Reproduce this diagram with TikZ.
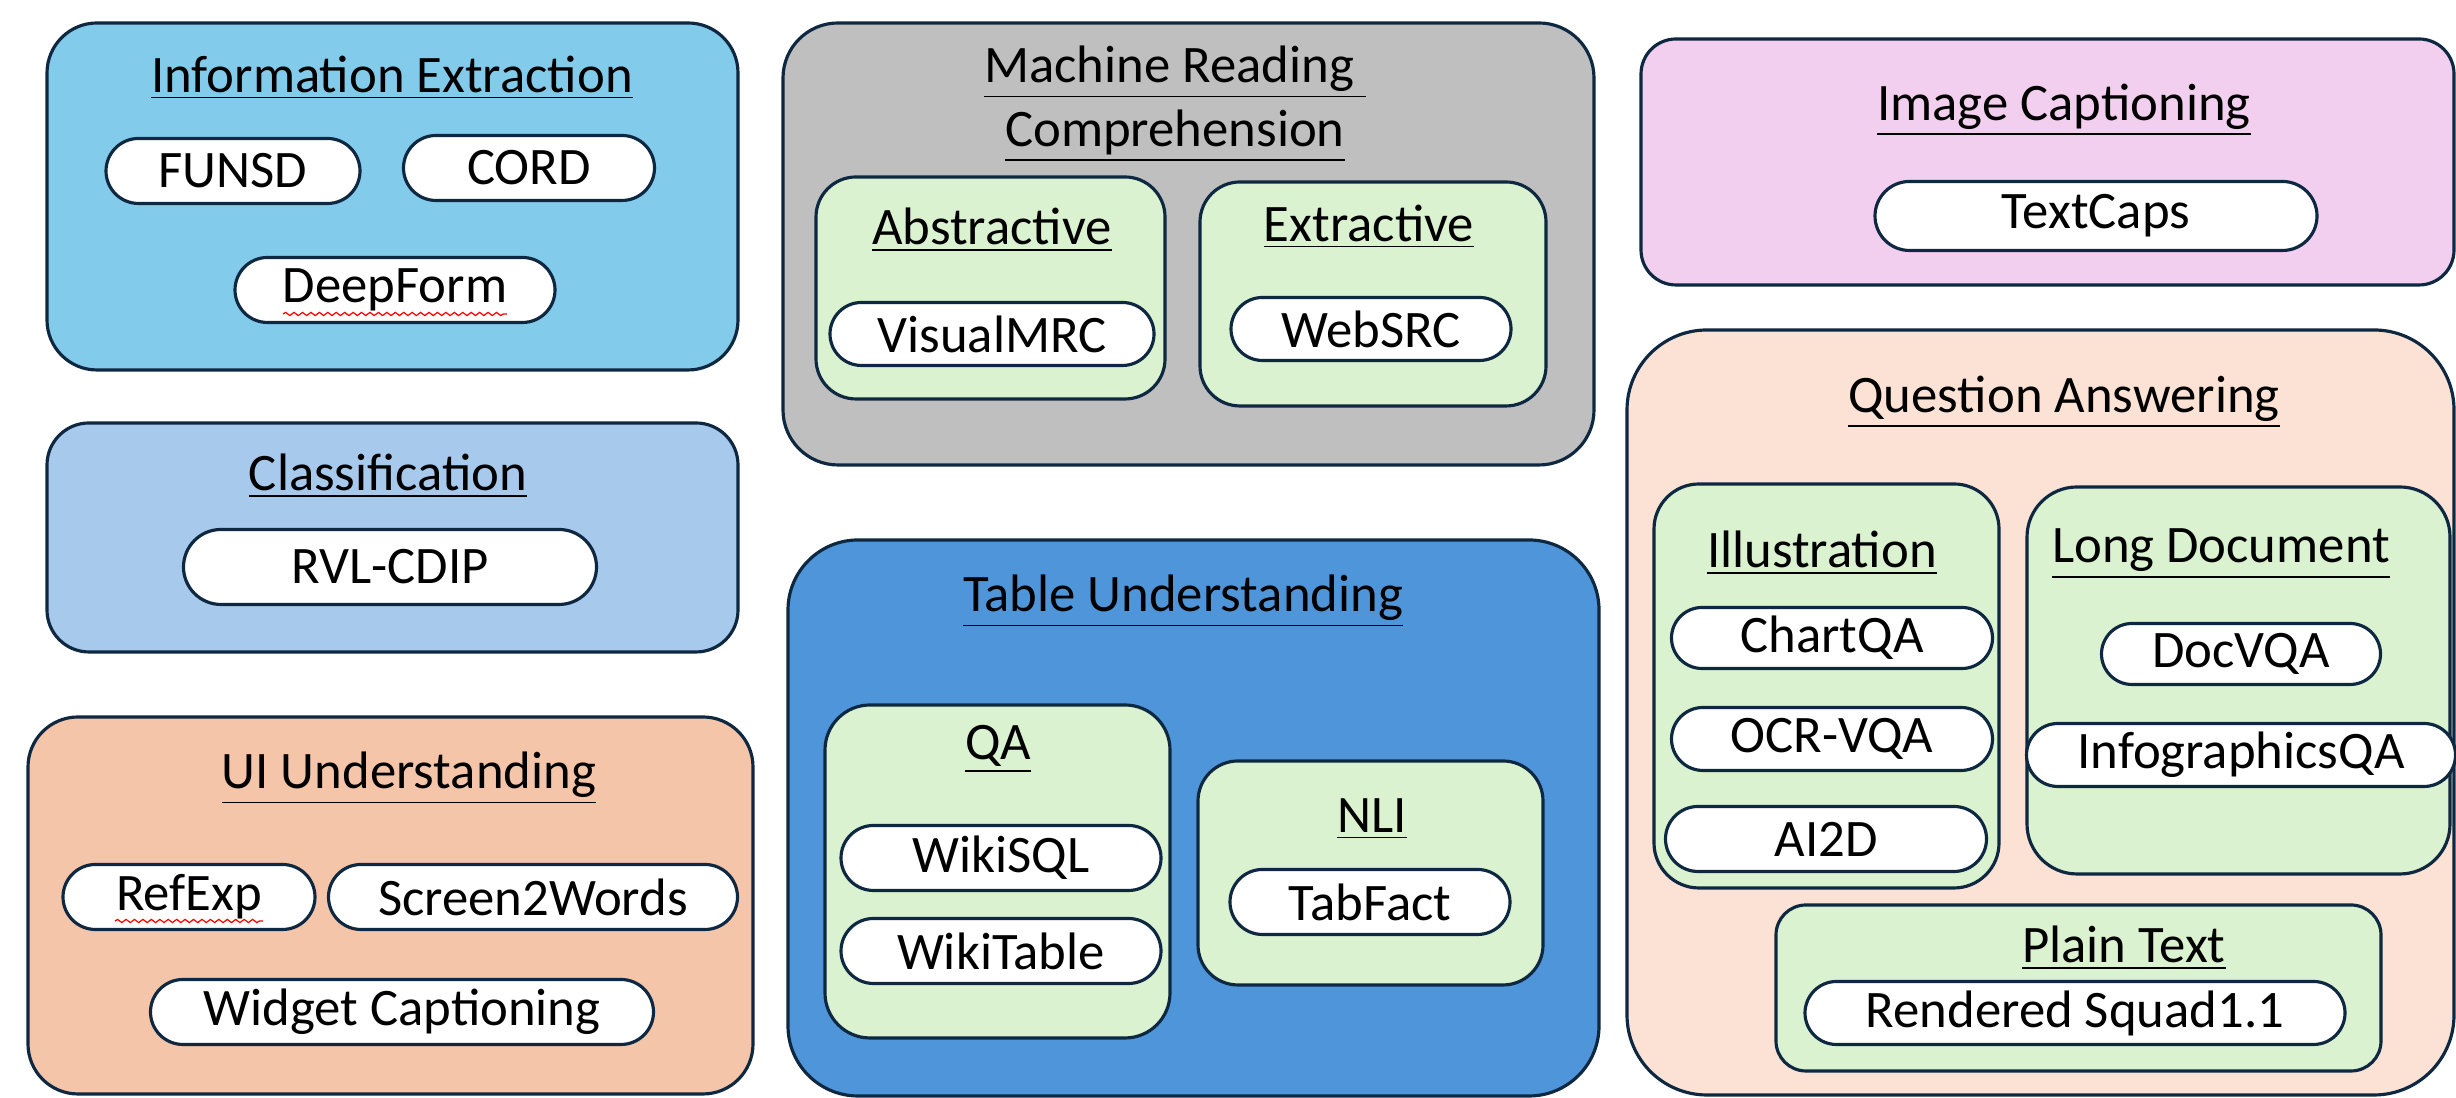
\documentclass[tikz,border=0pt]{standalone}
\usepackage{fontspec}
\setmainfont{Carlito}
\usetikzlibrary{shapes.misc,decorations.pathmorphing}

\definecolor{edge}{RGB}{14,40,65}
\definecolor{ieblue}{RGB}{131,203,235}
\definecolor{clsblue}{RGB}{166,201,236}
\definecolor{uiorange}{RGB}{245,197,170}
\definecolor{mrcgray}{RGB}{191,191,191}
\definecolor{tblblue}{RGB}{78,149,217}
\definecolor{cappink}{RGB}{242,206,239}
\definecolor{qapeach}{RGB}{251,226,213}
\definecolor{subgreen}{RGB}{218,242,208}

\tikzset{
  group/.style={draw=edge,line width=0.9pt,rounded corners=#1},
  group/.default=0.5cm,
  title/.style={font=\fontsize{15}{18.2}\selectfont,align=center},
  pill/.style={draw=edge,line width=0.9pt,fill=white,rounded rectangle,
    minimum height=0.65cm,inner sep=0pt,font=\fontsize{15}{18}\selectfont},
  spell/.style={draw=red,line width=0.35pt,decorate,
    decoration={snake,amplitude=0.45pt,segment length=2.4pt}}
}

\begin{document}
\begin{tikzpicture}
                \useasboundingbox (0,0) rectangle (24.56,10.98);
                \clip (0,0) rectangle (24.56,10.98);
                % left column
                \draw[group=0.5cm,fill=ieblue] (0.47,7.28) rectangle (7.38,10.75);
                \node[title] (ie) at (3.92,10.20) {\underline{Information Extraction}};
                \node[pill,minimum width=2.54cm] (funsd) at (2.33,9.27) {FUNSD};
                \node[pill,minimum width=2.51cm] (cord) at (5.29,9.30) {CORD};
                \node[pill,minimum width=3.20cm] (deepform) at (3.95,8.08) {DeepForm};
                \draw[spell] ([xshift=-1.12cm,yshift=-0.24cm]deepform.center) -- ++(2.24,0);
                \draw[group=0.42cm,fill=clsblue] (0.47,4.46) rectangle (7.38,6.75);
                \node[title] (cls) at (3.88,6.22) {\underline{Classification}};
                \node[pill,minimum width=4.13cm,minimum height=0.75cm] (rvl) at (3.90,5.31) {RVL-CDIP};
                \draw[group=0.5cm,fill=uiorange] (0.28,0.04) rectangle (7.53,3.81);
                \node[title] (ui) at (4.09,3.20) {\underline{UI Understanding}};
                \node[pill,minimum width=2.52cm] (refexp) at (1.89,2.01) {RefExp};
                \draw[spell] ([xshift=-0.74cm,yshift=-0.24cm]refexp.center) -- ++(1.48,0);
                \node[pill,minimum width=4.09cm] (s2w) at (5.33,2.01) {Screen2Words};
                \node[pill,minimum width=5.03cm] (widget) at (4.02,0.86) {Widget Captioning};
                % middle column
                \draw[group=0.55cm,fill=mrcgray] (7.83,6.33) rectangle (15.94,10.75);
                \node[title] (mrc) at (11.75,9.94) {\underline{Machine Reading\ }\\\underline{Comprehension}};
                \draw[group=0.4cm,fill=subgreen] (8.16,6.99) rectangle (11.65,9.21);
                \node[title] (abs) at (9.92,8.68) {\underline{Abstractive}};
                \node[pill,minimum width=3.24cm,minimum height=0.63cm] (vmrc) at (9.92,7.64) {VisualMRC};
                \draw[group=0.4cm,fill=subgreen] (12.00,6.92) rectangle (15.46,9.16);
                \node[title] (ext) at (13.69,8.71) {\underline{Extractive}};
                \node[pill,minimum width=2.80cm,minimum height=0.63cm] (websrc) at (13.71,7.69) {WebSRC};
                \draw[group=0.7cm,fill=tblblue] (7.88,0.02) rectangle (15.99,5.58);
                \node[title] (tbl) at (11.83,4.97) {\underline{Table Understanding}};
                \draw[group=0.45cm,fill=subgreen] (8.25,0.60) rectangle (11.70,3.93);
                \node[title] (tqa) at (9.98,3.49) {\underline{QA}};
                \node[pill,minimum width=3.20cm] (wikisql) at (10.01,2.40) {WikiSQL};
                \node[pill,minimum width=3.20cm] (wikitable) at (10.01,1.47) {WikiTable};
                \draw[group=0.4cm,fill=subgreen] (11.98,1.13) rectangle (15.43,3.37);
                \node[title] (nli) at (13.72,2.79) {\underline{NLI}};
                \node[pill,minimum width=2.80cm] (tabfact) at (13.70,1.96) {TabFact};
                % right column
                \draw[group=0.35cm,fill=cappink] (16.41,8.13) rectangle (24.54,10.59);
                \node[title] (cap) at (20.64,9.88) {\underline{Image Captioning}};
                \node[pill,minimum width=4.42cm,minimum height=0.69cm] (textcaps) at (20.96,8.82) {TextCaps};
                \draw[group=0.8cm,fill=qapeach] (16.27,0.03) rectangle (24.54,7.68);
                \node[title] (qa) at (20.64,6.96) {\underline{Question Answering}};
                \draw[group=0.45cm,fill=subgreen] (16.54,2.10) rectangle (19.99,6.14);
                \node[title] (illu) at (18.22,5.45) {\underline{Illustration}};
                \node[pill,minimum width=3.21cm,minimum height=0.61cm] (chartqa) at (18.32,4.60) {ChartQA};
                \node[pill,minimum width=3.21cm,minimum height=0.63cm] (ocrvqa) at (18.32,3.59) {OCR-VQA};
                \node[pill,minimum width=3.21cm] (ai2d) at (18.26,2.59) {AI2D};
                \draw[group=0.5cm,fill=subgreen] (20.27,2.24) rectangle (24.50,6.11);
                \node[title] (longdoc) at (22.21,5.44) {\underline{Long Document}};
                \node[pill,minimum width=2.79cm,minimum height=0.61cm] (docvqa) at (22.41,4.44) {DocVQA};
                \node[pill,minimum width=4.29cm,minimum height=0.63cm] (infoqa) at (22.41,3.43) {InfographicsQA};
                \draw[group=0.3cm,fill=subgreen] (17.76,0.27) rectangle (23.81,1.93);
                \node[title] (plain) at (21.24,1.50) {\underline{Plain Text}};
                \node[pill,minimum width=5.40cm,minimum height=0.63cm] (squad) at (20.75,0.85) {Rendered Squad1.1};
            \end{tikzpicture}
\end{document}
